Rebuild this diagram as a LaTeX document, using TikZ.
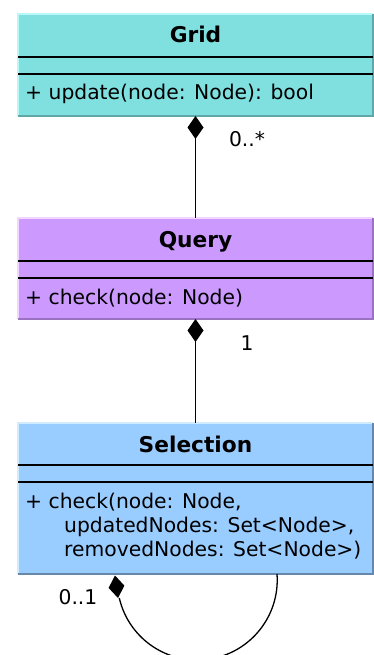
\documentclass[tikz,border=0pt]{standalone}
\usepackage{fontspec}
\setmainfont{DejaVu Sans}
\usetikzlibrary{arrows.meta}
\definecolor{gridfill}{HTML}{80E0E0}
\definecolor{gridlight}{HTML}{B8F8F8}
\definecolor{griddark}{HTML}{60A8A8}
\definecolor{queryfill}{HTML}{CC99FF}
\definecolor{querylight}{HTML}{F2D6FF}
\definecolor{querydark}{HTML}{9973BF}
\definecolor{selfill}{HTML}{99CCFF}
\definecolor{sellight}{HTML}{D2ECFF}
\definecolor{seldark}{HTML}{6688AA}
\tikzset{
  classbox/.style={anchor=north west, inner sep=0pt, outer sep=0pt, minimum width=355pt},
  litedge/.style={line width=2pt},
  drkedge/.style={line width=2pt},
  sepline/.style={line width=1.4pt, black},
  titletext/.style={anchor=base, inner sep=0pt, font=\fontsize{21.7}{26}\selectfont\bfseries},
  optext/.style={anchor=base west, inner sep=0pt, font=\fontsize{20.3}{24}\selectfont},
  multtext/.style={anchor=base, inner sep=0pt, font=\fontsize{20.3}{24}\selectfont},
  assoc/.style={line width=1.3pt, {Diamond[length=23pt,width=16pt]}-},
  loopline/.style={line width=1.3pt},
}
\begin{document}
\begin{tikzpicture}[x=1pt,y=-1pt]
\useasboundingbox (0,0) rectangle (374,655);
% Grid
\node[classbox, fill=gridfill, minimum height=102pt] (grid) at (18,14) {};
\draw[litedge, gridlight] (grid.south west) -- (grid.north west) -- (grid.north east);
\draw[drkedge, griddark] (grid.south west) -- (grid.south east) -- (grid.north east);
\draw[sepline] (18,57) -- (373,57);
\draw[sepline] (18,74) -- (373,74);
\node[titletext] (gridtitle) at (195.5,43) {Grid};
\node[optext] (gridop) at (25,100) {+ update(node: Node): bool};
% Query
\node[classbox, fill=queryfill, minimum height=101pt] (query) at (18,218) {};
\draw[litedge, querylight] (query.south west) -- (query.north west) -- (query.north east);
\draw[drkedge, querydark] (query.south west) -- (query.south east) -- (query.north east);
\draw[sepline] (18,261) -- (373,261);
\draw[sepline] (18,278) -- (373,278);
\node[titletext] (querytitle) at (195.5,247) {Query};
\node[optext] (queryop) at (25,304) {+ check(node: Node)};
% Selection
\node[classbox, fill=selfill, minimum height=151pt] (sel) at (18,423) {};
\draw[litedge, sellight] (sel.south west) -- (sel.north west) -- (sel.north east);
\draw[drkedge, seldark] (sel.south west) -- (sel.south east) -- (sel.north east);
\draw[sepline] (18,465) -- (373,465);
\draw[sepline] (18,482) -- (373,482);
\node[titletext] (seltitle) at (195.5,452) {Selection};
\node[optext] (selop1) at (25,508) {+ check(node: Node,};
\node[optext] (selop2) at (64,532) {updatedNodes: Set<Node>,};
\node[optext] (selop3) at (64,556) {removedNodes: Set<Node>)};
% connectors
\draw[assoc] (grid.south) -- (query.north);
\node[multtext] (m1) at (247,147) {0..*};
\draw[assoc] (query.south) -- (sel.north);
\node[multtext] (m2) at (247,350) {1};
\coordinate (loopR) at (277,574);
\draw[loopline] (loopR) arc[start angle=-4.3, end angle=167, radius=80];
\fill (115,575.5) -- (124.4,585.7) -- (118,598) -- (108.6,587.9) -- cycle;
\node[multtext] (m3) at (78,604) {0..1};
\end{tikzpicture}
\end{document}
